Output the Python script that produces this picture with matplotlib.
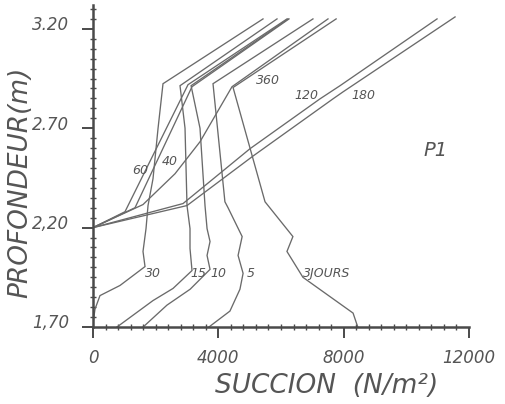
import numpy as np
import matplotlib
matplotlib.use("Agg")
import matplotlib.pyplot as plt
from matplotlib.ticker import MultipleLocator
import matplotlib.transforms as mtransforms

# ---- data: (suction N/m2, depth m) ----
s_3 = [8450, 8300, 6700, 6190, 6380, 5490, 4470, 7760]
d_3 = [1.70, 1.77, 1.95, 2.08, 2.155, 2.33, 2.905, 3.25]

s_5 = [3700, 4370, 4690, 4790, 4630, 4760, 4310, 4210, 3830, 7020]
d_5 = [1.70, 1.78, 1.89, 1.97, 2.06, 2.155, 2.30, 2.33, 2.924, 3.25]

s_10 = [1600, 2360, 3100, 3735, 3640, 3735, 3640, 3575, 3415, 3130, 6224]
d_10 = [1.70, 1.81, 1.89, 1.99, 2.06, 2.13, 2.195, 2.31, 2.70, 2.914, 3.25]

s_15 = [766, 1915, 2554, 3160, 3096, 3096, 3000, 2937, 2777, 5873]
d_15 = [1.70, 1.833, 1.894, 1.984, 2.095, 2.195, 2.311, 2.70, 2.914, 3.25]

s_30 = [0, 64, 223, 862, 1660, 1596, 1692, 1756, 1915, 2075, 2234, 5426]
d_30 = [1.72, 1.79, 1.858, 1.909, 2.004, 2.08, 2.195, 2.311, 2.446, 2.698, 2.924, 3.25]

s_40 = [0, 1341, 3160, 6256]
d_40 = [2.20, 2.30, 2.909, 3.25]

s_60 = [0, 1021, 3032, 6192]
d_60 = [2.20, 2.28, 2.919, 3.25]

s_120 = [0, 2873, 5011, 7246, 7884, 10980]
d_120 = [2.20, 2.321, 2.597, 2.848, 2.914, 3.25]

s_180 = [0, 3000, 5107, 7661, 7980, 11555]
d_180 = [2.20, 2.311, 2.56, 2.848, 2.883, 3.26]

s_360 = [0, 1596, 2617, 3415, 4437, 7500]
d_360 = [2.20, 2.316, 2.471, 2.632, 2.909, 3.25]

# curve labels: text, suction, depth, alignment
lab_text = ["3JOURS", "5", "10", "15", "30", "40", "60", "120", "180", "360"]
lab_s = [6703, 4916, 3735, 3096, 1660, 2458, 1500, 6800, 8618, 5586]
lab_d = [1.97, 1.97, 1.97, 1.97, 1.97, 2.532, 2.487, 2.863, 2.863, 2.939]
lab_ha = ["left", "left", "left", "left", "left", "center", "center", "center", "center", "center"]

xticks = [0, 4000, 8000, 12000]
xtick_labels = ["0", "4000", "8000", "12000"]
yticks = [1.70, 2.20, 2.70, 3.20]
ytick_labels = ["1,70", "2,20", "2.70", "3.20"]

LINE = "#6a6a6a"
TXT = "#555555"
AX = "#4a4a4a"

fig = plt.figure(figsize=(5.05, 4.04), dpi=100)
ax = fig.add_axes([93/505, 1-327/404, 376/505, 322/404])

series = [(s_3, d_3), (s_5, d_5), (s_10, d_10), (s_15, d_15), (s_30, d_30),
          (s_40, d_40), (s_60, d_60), (s_120, d_120), (s_180, d_180), (s_360, d_360)]
for s, d in series:
    ax.plot(s, d, color=LINE, lw=0.95, solid_joinstyle="miter")

for t, s, d, ha in zip(lab_text, lab_s, lab_d, lab_ha):
    ax.text(s, d, t, fontsize=9, style="italic", color=TXT, ha=ha, va="center")

ax.text(10917, 2.587, "P1", fontsize=14, style="italic", color=TXT, ha="center", va="center")

ax.set_xlim(0, 12000)
ax.set_ylim(1.70, 3.32)
ax.set_xticks(xticks)
ax.set_xticklabels(xtick_labels, fontsize=12, style="italic", color=TXT)
ax.set_yticks(yticks)
ax.set_yticklabels(ytick_labels, fontsize=12, style="italic", color=TXT)
ax.xaxis.set_minor_locator(MultipleLocator(400))
ax.yaxis.set_minor_locator(MultipleLocator(0.05))

for sp in ["top", "right"]:
    ax.spines[sp].set_visible(False)
for sp in ["left", "bottom"]:
    ax.spines[sp].set_color(AX)
    ax.spines[sp].set_linewidth(1.8)

ax.tick_params(axis="both", which="major", direction="out", length=8, width=1.4, color=AX)
ax.tick_params(axis="x", which="major", pad=8)
ax.tick_params(axis="y", which="major", pad=9)
ax.tick_params(axis="both", which="minor", direction="inout", length=5, width=1.0, color=AX)

offset = mtransforms.ScaledTranslation(0, 4/72, fig.dpi_scale_trans)
for lbl in ax.get_yticklabels():
    lbl.set_transform(lbl.get_transform() + offset)

fig.text(20/505, 1-182/404, "PROFONDEUR(m)", rotation=90, fontsize=19, style="italic",
         color=TXT, ha="center", va="center")
fig.text(327/505, 1-386/404, "SUCCION  (N/m²)", fontsize=19, style="italic",
         color=TXT, ha="center", va="center")

fig.savefig("out.png", dpi=100)
